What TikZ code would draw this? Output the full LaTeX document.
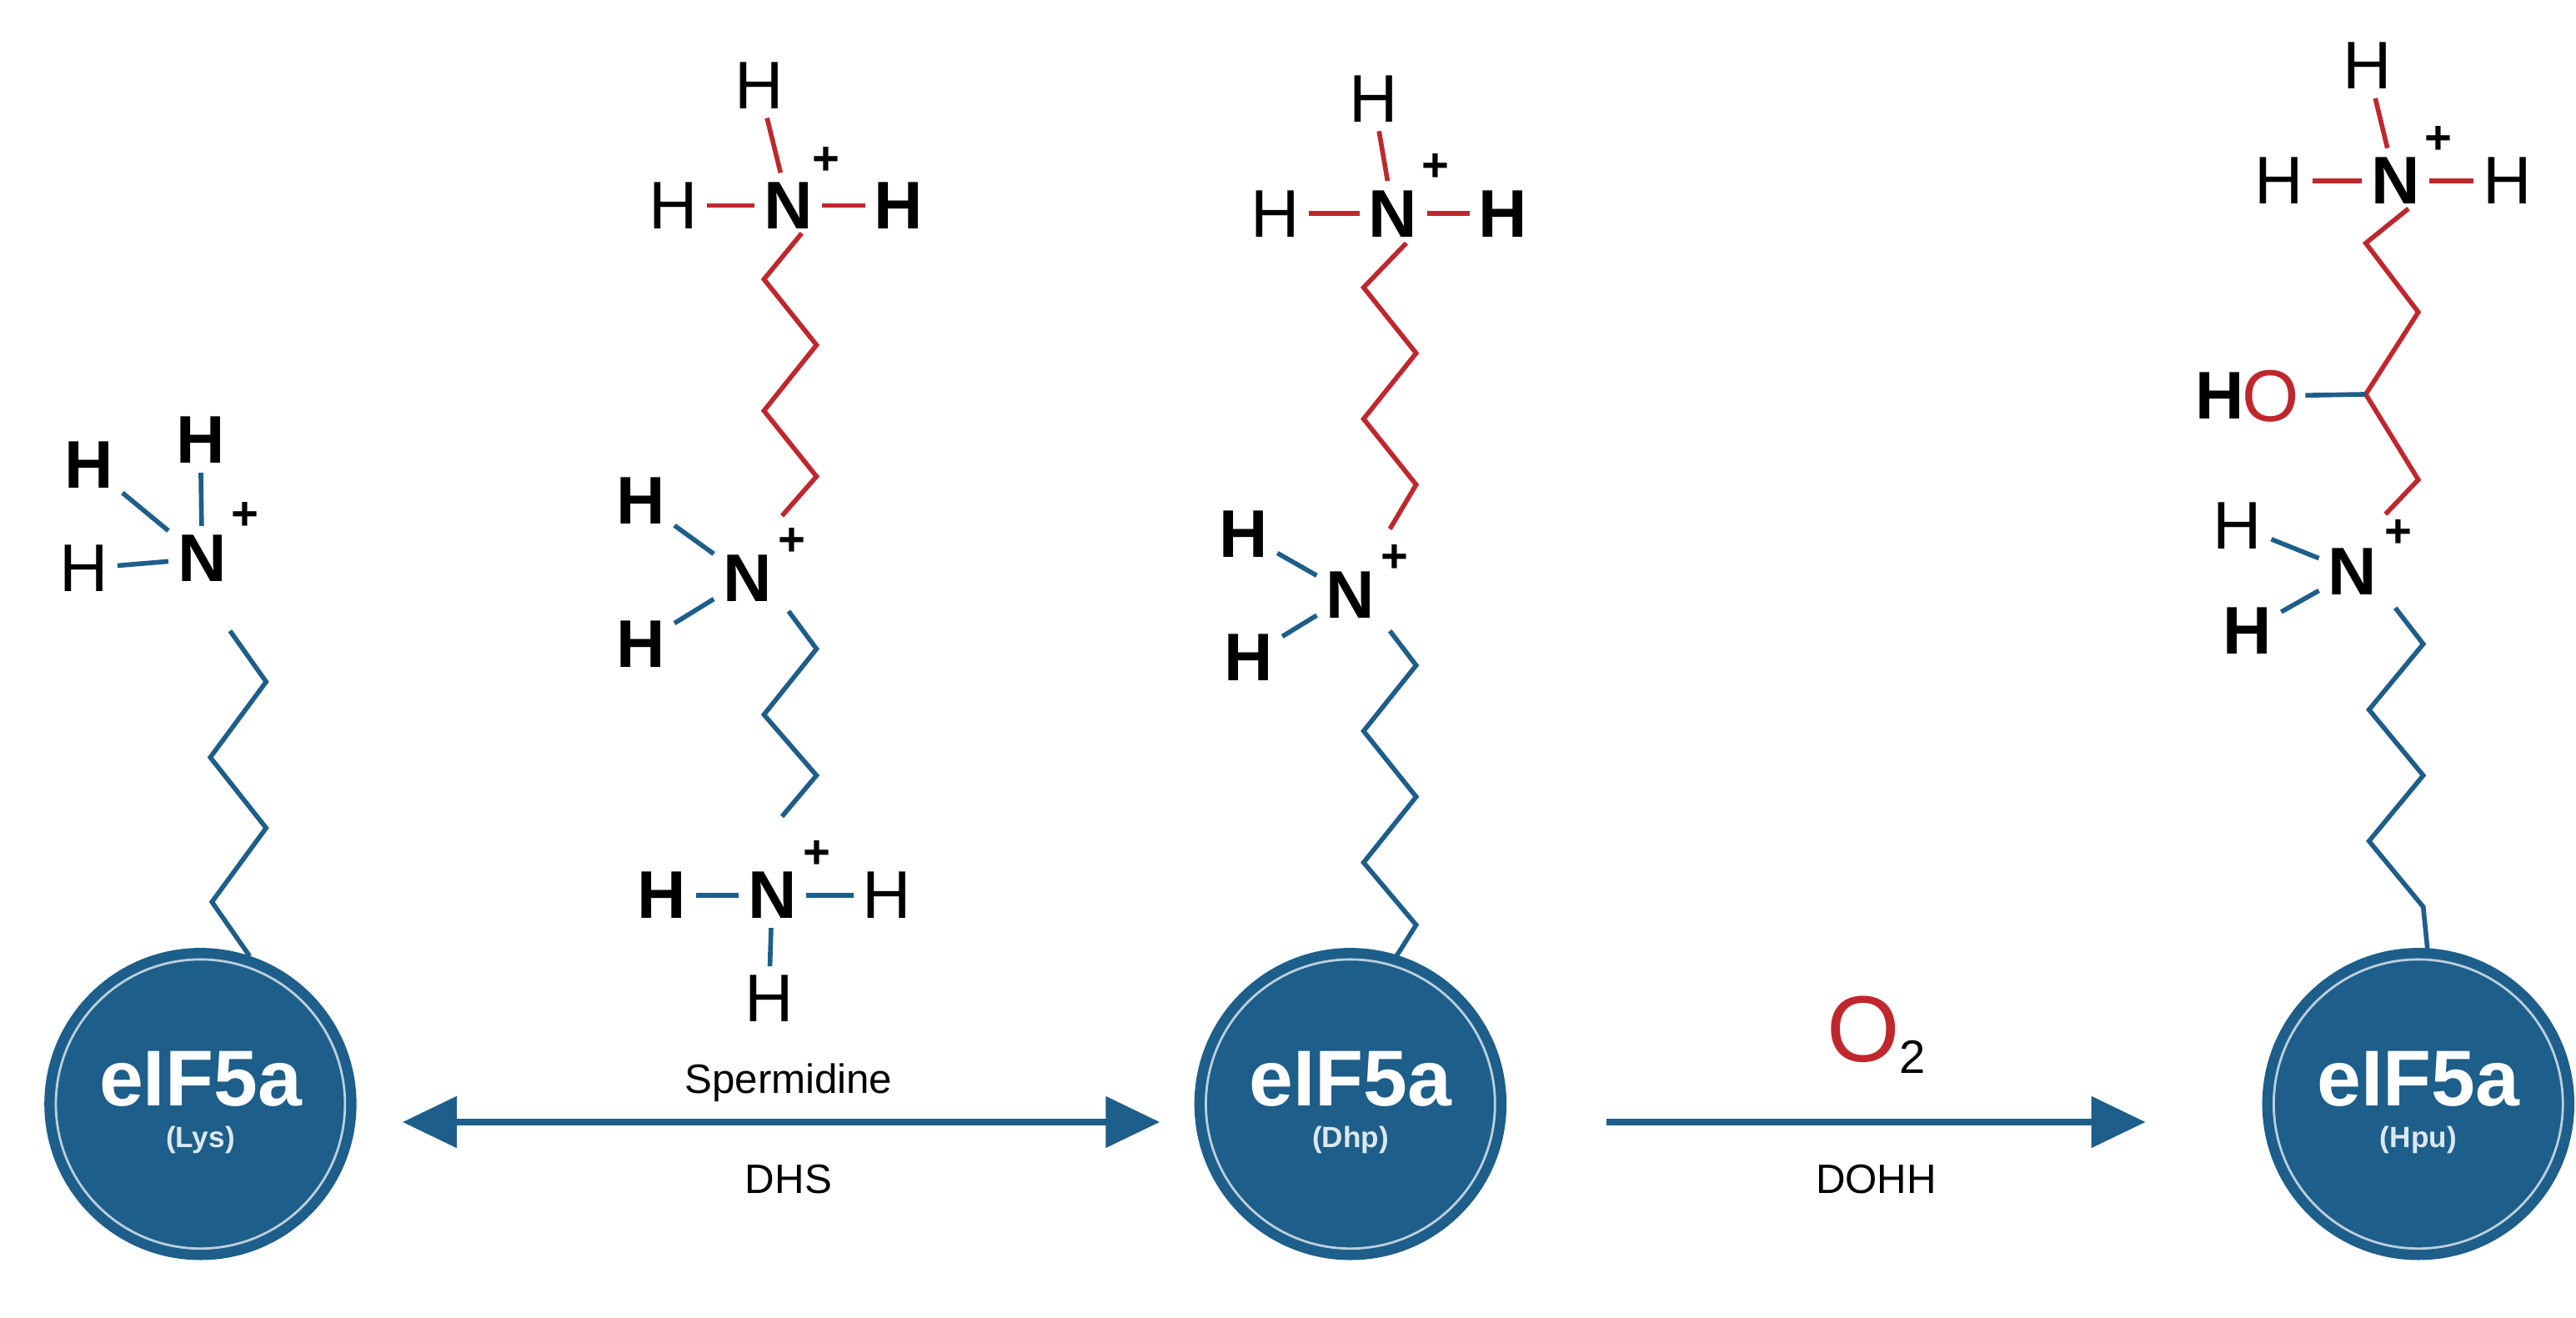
\documentclass[tikz,border=0pt]{standalone}
\usepackage{fontspec}
\setmainfont{Liberation Sans}
\usetikzlibrary{arrows.meta}
\definecolor{eblue}{HTML}{1D5E8A}
\definecolor{ered}{HTML}{C0272D}
\begin{document}
\begin{tikzpicture}[x=0.0197cm,y=-0.0197cm,
  atom/.style={font=\bfseries\fontsize{23}{23}\selectfont,inner sep=3pt,text=black},
  hr/.style={font=\fontsize{23}{23}\selectfont,inner sep=3pt},
  plus/.style={font=\bfseries\fontsize{16}{16}\selectfont,inner sep=0pt},
  bb/.style={eblue,line width=1.6pt},
  rb/.style={ered,line width=1.6pt},
  prot/.style={circle,fill=eblue,minimum size=190*0.0197cm,inner sep=0pt},
  ring/.style={circle,draw=white!70!eblue,line width=0.8pt,minimum size=176*0.0197cm,inner sep=0pt},
  arr/.style={eblue,line width=2.4pt,-{Triangle[length=0.65cm,width=0.6cm]}},
  lab/.style={font=\fontsize{14}{14}\selectfont}]
\useasboundingbox (0,0) rectangle (1568,802);
% proteins
\foreach \n/\x/\s in {p1/122/Lys,p2/822/Dhp,p3/1472/Hpu}{
  \node[prot] (\n) at (\x,672) {};
  \node[ring] at (\x,672) {};
  \node[text=white,font=\bfseries\fontsize{27}{27}\selectfont] (\n t) at (\x,657) {eIF5a};
  \node[text=white!85!eblue,font=\bfseries\fontsize{10}{10}\selectfont] (\n s) at (\x,694) {(\s)};
}
% arrows
\coordinate (a1s) at (245,683); \coordinate (a1e) at (706,683);
\draw[eblue,line width=2.4pt,{Triangle[length=0.65cm,width=0.6cm]}-{Triangle[length=0.65cm,width=0.6cm]}] (a1s) -- (a1e);
\node[lab] (spd) at (480,659) {Spermidine};
\node[lab] (dhs) at (480,718) {DHS};
\coordinate (a2s) at (978,683); \coordinate (a2e) at (1306,683);
\draw[arr] (a2s) -- (a2e);
\node[inner sep=0pt] (o2) at (1142,630) {\textcolor{ered}{\fontsize{32}{32}\selectfont O}\raisebox{-4pt}{\fontsize{16}{16}\selectfont 2}};
\node[lab] (dohh) at (1142,718) {DOHH};

% ---- Lys
\node[atom] (lN) at (123,340) {N};
\node[plus] at (149,314) {+};
\node[atom] (lH1) at (122,268) {H};
\node[atom] (lH2) at (54,283) {H};
\node[hr] (lH3) at (51,346) {H};
\draw[bb] (lH1) -- (lN); \draw[bb] (lH2) -- (lN); \draw[bb] (lH3) -- (lN);
\draw[bb] (140,384) -- (162,415) -- (128,461) -- (162,504) -- (129,549) -- (152,582);

% ---- Spermidine
\node[atom] (sN1) at (480,125) {N};
\node[plus] at (503,98) {+};
\node[hr] (sH1) at (462,52) {H};
\node[hr] (sH2) at (410,125) {H};
\node[atom] (sH3) at (547,125) {H};
\draw[rb] (sH1) -- (sN1); \draw[rb] (sH2) -- (sN1); \draw[rb] (sH3) -- (sN1);
\draw[rb] (488,142) -- (465,170) -- (497,210) -- (465,250) -- (497,290) -- (476,314);
\node[atom] (sN2) at (455,352) {N};
\node[plus] at (482,330) {+};
\node[atom] (sH4) at (390,305) {H};
\node[atom] (sH5) at (390,392) {H};
\draw[bb] (sH4) -- (sN2); \draw[bb] (sH5) -- (sN2);
\draw[bb] (480,372) -- (497,395) -- (465,435) -- (497,472) -- (476,497);
\node[atom] (sN3) at (470,545) {N};
\node[plus] at (497,520) {+};
\node[atom] (sH6) at (403,545) {H};
\node[hr] (sH7) at (540,545) {H};
\node[hr] (sH8) at (468,608) {H};
\draw[bb] (sH6) -- (sN3); \draw[bb] (sH7) -- (sN3); \draw[bb] (sH8) -- (sN3);

% ---- Dhp
\node[atom] (dN1) at (848,130) {N};
\node[plus] at (874,102) {+};
\node[hr] (dH1) at (836,60) {H};
\node[hr] (dH2) at (776,130) {H};
\node[atom] (dH3) at (915,130) {H};
\draw[rb] (dH1) -- (dN1); \draw[rb] (dH2) -- (dN1); \draw[rb] (dH3) -- (dN1);
\draw[rb] (856,148) -- (830,175) -- (862,215) -- (830,255) -- (862,295) -- (846,322);
\node[atom] (dN2) at (822,362) {N};
\node[plus] at (849,340) {+};
\node[atom] (dH4) at (757,325) {H};
\node[atom] (dH5) at (760,400) {H};
\draw[bb] (dH4) -- (dN2); \draw[bb] (dH5) -- (dN2);
\draw[bb] (846,384) -- (862,405) -- (830,445) -- (862,485) -- (830,525) -- (862,563) -- (850,582);

% ---- Hpu
\node[atom] (hN1) at (1458,110) {N};
\node[plus] at (1484,85) {+};
\node[hr] (hH1) at (1441,40) {H};
\node[hr] (hH2) at (1387,110) {H};
\node[hr] (hH3) at (1526,110) {H};
\draw[rb] (hH1) -- (hN1); \draw[rb] (hH2) -- (hN1); \draw[rb] (hH3) -- (hN1);
\coordinate (hC) at (1440,240);
\draw[rb] (1466,127) -- (1440,148) -- (1472,190) -- (hC) -- (1472,292) -- (1452,313);
\node[atom,inner sep=1pt] (hH) at (1351,241) {H};
\node[text=ered,font=\fontsize{25}{25}\selectfont,inner sep=2pt] (hO) at (1382,241) {O};
\draw[bb] (hO) -- (hC);
\node[atom] (hN2) at (1432,348) {N};
\node[plus] at (1460,325) {+};
\node[hr] (hH4) at (1362,320) {H};
\node[atom] (hH5) at (1368,384) {H};
\draw[bb] (hH4) -- (hN2); \draw[bb] (hH5) -- (hN2);
\draw[bb] (1458,370) -- (1475,392) -- (1442,432) -- (1475,472) -- (1442,512) -- (1475,552) -- (1478,582);
\end{tikzpicture}
\end{document}
